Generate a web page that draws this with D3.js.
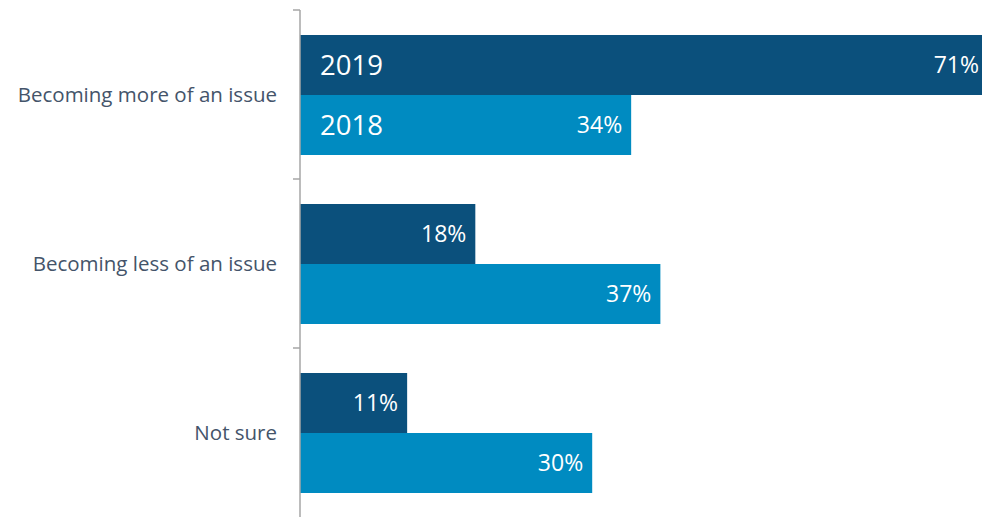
<!DOCTYPE html>
<html>
  <head>
    <meta charset="utf-8" />
    <title>Issue trend</title>
    <script src="https://d3js.org/d3.v7.min.js"></script>
    <style>
      body { margin: 0; background: #fff; }
      svg { display: block; font-family: "Open Sans", "Noto Sans", sans-serif; }
    </style>
  </head>
  <body>
    <svg id="chart" width="982" height="517"></svg>
    <script>
      var categories = ["Becoming more of an issue", "Becoming less of an issue", "Not sure"];
      var years = ["2019", "2018"];
      var values2019 = [71, 18, 11];
      var values2018 = [34, 37, 30];

      var colors = { "2019": "#0b507c", "2018": "#008bc1" };

      var svg = d3.select("#chart");

      var x = d3.scaleLinear().domain([0, 100]).range([300, 1274]);
      var y = d3.scaleBand().domain(categories).range([10, 517]);
      var yInner = d3.scaleBand().domain(years).range([25, y.bandwidth() - 24]);

      var rows = [];
      categories.forEach(function (c, i) {
        rows.push({ cat: c, year: "2019", value: values2019[i], first: i === 0 });
        rows.push({ cat: c, year: "2018", value: values2018[i], first: i === 0 });
      });

      var bars = svg.selectAll("g.bar")
        .data(rows)
        .enter().append("g")
        .attr("class", "bar")
        .attr("transform", function (d) {
          return "translate(0," + (y(d.cat) + yInner(d.year)) + ")";
        });

      bars.append("rect")
        .attr("x", x(0))
        .attr("width", function (d) { return x(d.value) - x(0); })
        .attr("height", yInner.bandwidth())
        .attr("fill", function (d) { return colors[d.year]; });

      // value labels at bar end
      bars.append("text")
        .attr("x", function (d) { return Math.min(x(d.value), 988) - 9; })
        .attr("y", yInner.bandwidth() / 2)
        .attr("dy", "0.35em")
        .attr("text-anchor", "end")
        .attr("fill", "#fff")
        .style("font-size", "23px")
        .text(function (d) { return d.value + "%"; });

      // year labels inside first group
      bars.filter(function (d) { return d.first; })
        .append("text")
        .attr("x", x(0) + 20)
        .attr("y", yInner.bandwidth() / 2)
        .attr("dy", "0.35em")
        .attr("fill", "#fff")
        .style("font-size", "27.5px")
        .text(function (d) { return d.year; });

      // axis
      var ax = svg.append("g").attr("transform", "translate(" + x(0) + ",0)");
      ax.append("line")
        .attr("x1", 0).attr("x2", 0)
        .attr("y1", 10).attr("y2", 517)
        .attr("stroke", "#a6a6a6").attr("stroke-width", 1.5);
      ax.selectAll("line.tick")
        .data([10, y(categories[1]), y(categories[2])])
        .enter().append("line")
        .attr("class", "tick")
        .attr("x1", -7).attr("x2", 0)
        .attr("y1", function (d) { return d; })
        .attr("y2", function (d) { return d; })
        .attr("stroke", "#a6a6a6").attr("stroke-width", 1.5);

      svg.append("g").selectAll("text")
        .data(categories)
        .enter().append("text")
        .attr("x", 277)
        .attr("y", function (d) { return y(d) + y.bandwidth() / 2; })
        .attr("dy", "0.35em")
        .attr("text-anchor", "end")
        .attr("fill", "#44546a")
        .style("font-size", "20.5px")
        .text(function (d) { return d; });
    </script>
  </body>
</html>
